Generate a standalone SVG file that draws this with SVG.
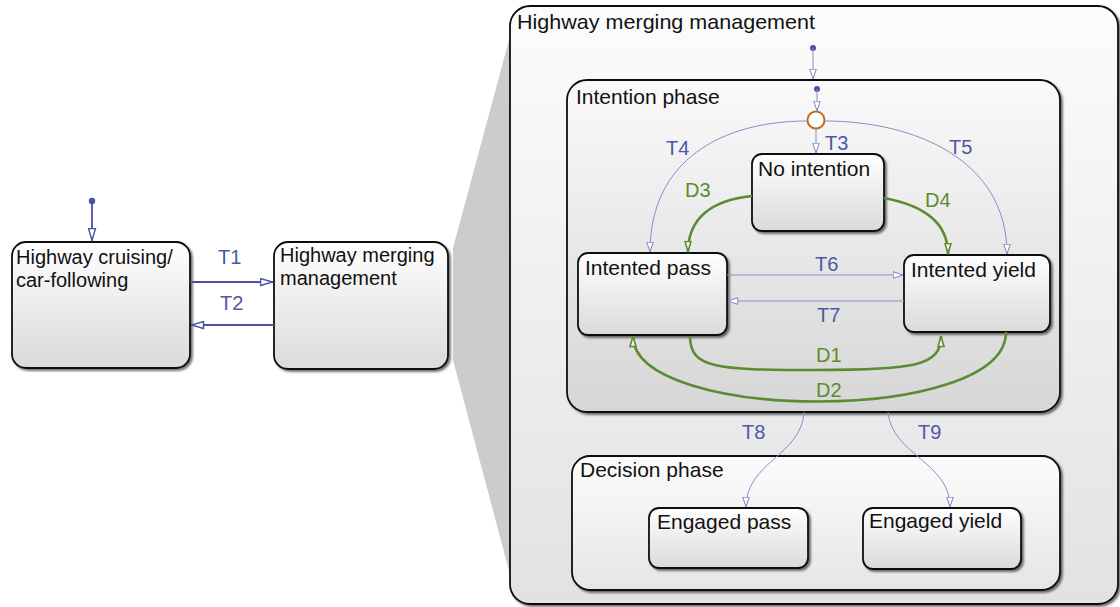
<svg xmlns="http://www.w3.org/2000/svg" width="1120" height="607" viewBox="0 0 1120 607">
<defs>
<linearGradient id="gNode" x1="0" y1="0" x2="0" y2="1"><stop offset="0" stop-color="#ffffff"/><stop offset="1" stop-color="#dadada"/></linearGradient>
<linearGradient id="gBig" x1="0" y1="0" x2="0" y2="1"><stop offset="0" stop-color="#fcfcfc"/><stop offset="1" stop-color="#e2e2e2"/></linearGradient>
<linearGradient id="gInt" x1="0" y1="0" x2="0" y2="1"><stop offset="0" stop-color="#fafafa"/><stop offset="1" stop-color="#d6d6d6"/></linearGradient>
<linearGradient id="gDec" x1="0" y1="0" x2="0" y2="1"><stop offset="0" stop-color="#fcfcfc"/><stop offset="1" stop-color="#e6e6e6"/></linearGradient>
<filter id="sh" x="-5%" y="-5%" width="115%" height="115%"><feDropShadow dx="2" dy="2" stdDeviation="1.2" flood-color="#000" flood-opacity="0.55"/></filter>
<marker id="aBlue" viewBox="0 0 14 9" refX="13.5" refY="4.5" markerWidth="14" markerHeight="9" markerUnits="userSpaceOnUse" orient="auto"><path d="M1,1 L13,4.5 L1,8 Z" fill="#fff" stroke="#4a51a3" stroke-width="1.4"/></marker>
<marker id="aThin" viewBox="0 0 11 8" refX="10.5" refY="4" markerWidth="11" markerHeight="8" markerUnits="userSpaceOnUse" orient="auto"><path d="M0.7,0.7 L10.3,4 L0.7,7.3 Z" fill="#fff" stroke="#7f84c0" stroke-width="1"/></marker>
<marker id="aGreen" viewBox="0 0 12 8" refX="11.5" refY="4" markerWidth="12" markerHeight="8" markerUnits="userSpaceOnUse" orient="auto"><path d="M1,1 L11,4 L1,7 Z" fill="#f4f8f0" stroke="#5b8c33" stroke-width="1.6"/></marker>
<style>
.st{stroke:#111;stroke-width:1.8;filter:url(#sh)}
.lbl{font-family:"Liberation Sans",Arial,sans-serif;font-size:20px;fill:#111}
.lbl21{font-family:"Liberation Sans",Arial,sans-serif;font-size:21px;fill:#111}
.tl{font-family:"Liberation Sans",Arial,sans-serif;font-size:20px;fill:#4f57a6}
.dl{font-family:"Liberation Sans",Arial,sans-serif;font-size:20px;fill:#5b8c33}
.thick{fill:none;stroke:#4a51a3;stroke-width:1.8}
.thin{fill:none;stroke:#8a8ec6;stroke-width:1}
.green{fill:none;stroke:#5b8c33;stroke-width:2.6}
</style>
</defs>
<rect width="1120" height="607" fill="#ffffff"/>
<polygon points="453,248 513,25 512,582 453,360" fill="#cccccc"/>

<g id="cruising">
<rect class="st" x="12" y="242" width="178" height="126" rx="14" fill="url(#gNode)"/>
<text class="lbl" x="16" y="264">Highway cruising/</text>
<text class="lbl" x="16" y="287">car-following</text>
</g>
<g id="merging">
<rect class="st" x="274" y="242" width="174" height="127" rx="14" fill="url(#gNode)"/>
<text class="lbl" x="280" y="262">Highway merging</text>
<text class="lbl" x="280" y="285">management</text>
</g>

<g id="merging-expanded">
<rect class="st" x="510" y="6" width="608" height="598" rx="20" fill="url(#gBig)"/>
<text class="lbl21" x="517" y="29" textLength="298" lengthAdjust="spacingAndGlyphs">Highway merging management</text>
</g>
<g id="intention-phase">
<rect class="st" x="567" y="80" width="493" height="332" rx="20" fill="url(#gInt)"/>
<text class="lbl21" x="576" y="104">Intention phase</text>
</g>
<g id="decision-phase">
<rect class="st" x="572" y="456" width="488" height="134" rx="18" fill="url(#gDec)"/>
<text class="lbl21" x="580" y="477">Decision phase</text>
</g>
<g id="no-intention">
<rect class="st" x="752" y="154" width="132" height="77" rx="10" fill="url(#gNode)"/>
<text class="lbl21" x="758" y="176">No intention</text>
</g>
<g id="intented-pass">
<rect class="st" x="578" y="253" width="149" height="82" rx="10" fill="url(#gNode)"/>
<text class="lbl21" x="585" y="275">Intented pass</text>
</g>
<g id="intented-yield">
<rect class="st" x="904" y="255" width="146" height="77" rx="10" fill="url(#gNode)"/>
<text class="lbl21" x="911" y="277">Intented yield</text>
</g>
<g id="engaged-pass">
<rect class="st" x="649" y="508" width="159" height="60" rx="10" fill="url(#gNode)"/>
<text class="lbl21" x="657" y="529">Engaged pass</text>
</g>
<g id="engaged-yield">
<rect class="st" x="863" y="508" width="158" height="61" rx="10" fill="url(#gNode)"/>
<text class="lbl21" x="869" y="528">Engaged yield</text>
</g>
<g id="junction">
<circle cx="816" cy="120" r="8.5" fill="#fff" stroke="#c46a1e" stroke-width="2"/>
</g>

<g id="connectors">
<circle cx="92" cy="201" r="3.2" fill="#4a51a3"/>
<path class="thick" d="M92,201 L92,241" marker-end="url(#aBlue)"/>
<path class="thick" d="M190,282 L273,282" marker-end="url(#aBlue)"/>
<path class="thick" d="M274,325 L191,325" marker-end="url(#aBlue)"/>
<text class="tl" x="218" y="264">T1</text>
<text class="tl" x="220" y="310">T2</text>

<circle cx="813" cy="48" r="3" fill="#4a51a3"/>
<path class="thin" d="M813,48 L813,79" marker-end="url(#aThin)"/>
<circle cx="817" cy="89" r="3" fill="#4a51a3"/>
<path class="thin" d="M817,89 L817,111" marker-end="url(#aThin)"/>
<path class="thin" d="M816,129 L816,153" marker-end="url(#aThin)"/>
<path class="thin" d="M807.5,121 C722,121 650,160 650,252" marker-end="url(#aThin)"/>
<path class="thin" d="M824.5,121 C915,121 1007,160 1007,254" marker-end="url(#aThin)"/>
<path class="thin" d="M727,275 L903,275" marker-end="url(#aThin)"/>
<path class="thin" d="M904,301 L728,301" marker-end="url(#aThin)"/>
<path class="thin" d="M804,412 C802,455 746,462 746,507" marker-end="url(#aThin)"/>
<path class="thin" d="M888,412 C892,455 950,462 950,507" marker-end="url(#aThin)"/>

<path class="green" d="M752,196 C712,200 688,218 688,252" marker-end="url(#aGreen)"/>
<path class="green" d="M884,198 C922,205 948,222 948,254" marker-end="url(#aGreen)"/>
<path class="green" d="M690,336 C690,368 715,370 815,370 C915,370 941,366 941,336" marker-end="url(#aGreen)"/>
<path class="green" d="M1006,332 C1006,425 633,423 633,336" marker-end="url(#aGreen)"/>

<text class="tl" x="825" y="150">T3</text>
<text class="tl" x="666" y="155">T4</text>
<text class="tl" x="949" y="154">T5</text>
<text class="tl" x="815" y="271">T6</text>
<text class="tl" x="817" y="322">T7</text>
<text class="tl" x="742" y="439">T8</text>
<text class="tl" x="918" y="439">T9</text>
<text class="dl" x="685" y="197">D3</text>
<text class="dl" x="925" y="207">D4</text>
<text class="dl" x="816" y="362">D1</text>
<text class="dl" x="816" y="397">D2</text>
</g>
</svg>
